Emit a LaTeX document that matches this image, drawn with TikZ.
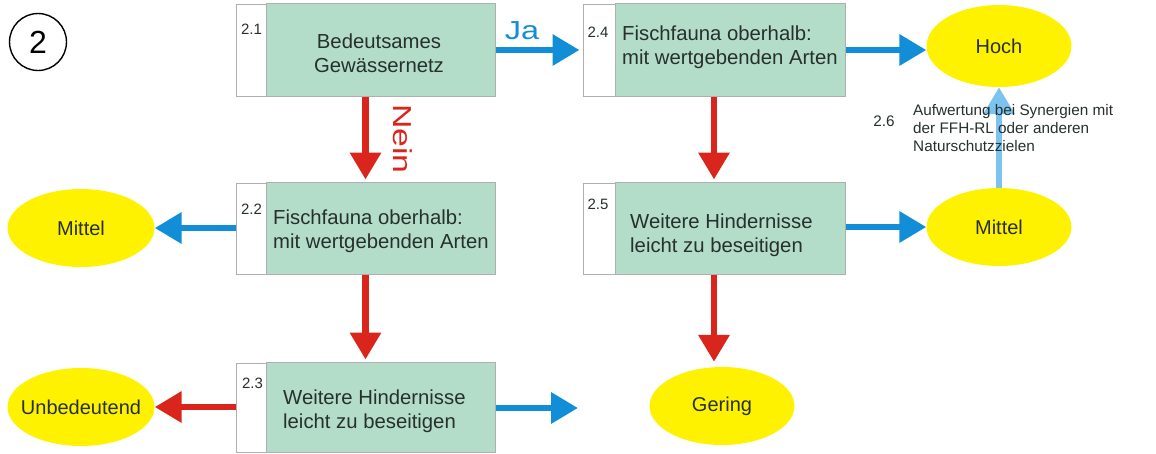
\documentclass[tikz,border=0pt]{standalone}
\usepackage{fontspec}
\setmainfont{Liberation Sans}
\usetikzlibrary{arrows.meta,shapes.geometric,calc}
\definecolor{boxgreen}{RGB}{180,221,201}
\definecolor{ellyellow}{RGB}{255,242,0}
\definecolor{arrblue}{RGB}{18,142,216}
\definecolor{arrred}{RGB}{218,37,29}
\definecolor{arrlight}{RGB}{125,195,240}
\definecolor{boxline}{RGB}{175,175,175}
\definecolor{txt}{RGB}{38,48,44}
\newcommand{\ctext}[1]{\makebox[0pt]{#1}}
\tikzset{
  frame/.style={draw=boxline, line width=1pt, fill=white, inner sep=0pt},
  greenpart/.style={fill=boxgreen, draw=boxline, line width=0.8pt},
  boxtext/.style={font=\fontsize{20.3}{24}\selectfont, text=txt, align=left, inner sep=0pt, anchor=west},
  boxtextc/.style={font=\fontsize{20.3}{24}\selectfont, text=txt, align=center, inner sep=0pt},
  numtext/.style={font=\fontsize{15}{17}\selectfont, text=txt, inner sep=0pt},
  result/.style={ellipse, fill=ellyellow, minimum width=145pt, minimum height=80pt, font=\fontsize{20}{22}\selectfont, text=txt, inner sep=0pt},
  arr/.style={line width=6.5pt, -{Triangle[width=30pt,length=27pt]}},
  bluearr/.style={arr, draw=arrblue, fill=arrblue},
  redarr/.style={arr, draw=arrred, fill=arrred},
  lightarr/.style={arr, draw=arrlight, fill=arrlight},
  annot/.style={font=\fontsize{15.3}{18}\selectfont, text=txt, align=left, inner sep=0pt}
}
\begin{document}
\begin{tikzpicture}[x=1pt,y=-1pt]
\useasboundingbox (0,0) rectangle (1156,453);
% circle 2
\node[circle, draw, line width=1.4pt, minimum size=57pt, inner sep=0pt, font=\fontsize{32}{32}\selectfont] (c2) at (38,42) {2};
% boxes
\node[frame, minimum width=259pt, minimum height=92pt] (b21) at (365.5,50) {};
\node[frame, minimum width=259pt, minimum height=91pt] (b22) at (365.5,228.5) {};
\node[frame, minimum width=259pt, minimum height=89pt] (b23) at (365.5,407.5) {};
\node[frame, minimum width=262pt, minimum height=92pt] (b24) at (714,50) {};
\node[frame, minimum width=262pt, minimum height=91pt] (b25) at (714,228.5) {};
\foreach \b in {b21,b22,b23}{
  \draw[greenpart] ($(\b.north west)+(31pt,0)$) rectangle (\b.south east);
}
\foreach \b in {b24,b25}{
  \draw[greenpart] ($(\b.north west)+(33pt,0)$) rectangle (\b.south east);
}
% numbers
\node[numtext] (n21) at (251.5,29) {2.1};
\node[numtext] (n22) at (251.5,209) {2.2};
\node[numtext] (n23) at (252.5,383) {2.3};
\node[numtext] (n24) at (598,32) {2.4};
\node[numtext] (n25) at (598,204) {2.5};
% texts
\node[boxtextc] (t21) at (379,53) {Bedeutsames\\Gewässernetz};
\node[boxtext] (t22) at (273,231) {Fischfauna oberhalb:\\mit wertgebenden Arten};
\node[boxtext] (t23) at (283,411) {Weitere Hindernisse\\leicht zu beseitigen};
\node[boxtext] (t24) at (622,47) {Fischfauna oberhalb:\\mit wertgebenden Arten};
\node[boxtext] (t25) at (630,235) {Weitere Hindernisse\\leicht zu beseitigen};
% results
\node[result, minimum height=82pt] (hoch) at (999,46) {\ctext{Hoch}};
\node[result, minimum height=78pt] (mitr) at (999,227) {\ctext{Mittel}};
\node[result, minimum height=78pt] (ger) at (722,406) {\ctext{Gering}};
\node[result, minimum height=78pt, minimum width=147pt] (mitl) at (81,228) {\ctext{Mittel}};
\node[result, minimum height=78pt, minimum width=147pt] (unb) at (81,407) {\ctext{Unbedeutend}};
% free end
\coordinate (free) at (578,408);
% arrows
\draw[bluearr, shorten >=3pt] (b21.east) -- (b24.west);
\draw[bluearr] (b24.east) -- (b24.east -| hoch.west);
\draw[bluearr] (b22.west |- mitl.east) -- (mitl.east);
\draw[bluearr] (b25.east |- mitr.west) -- (mitr.west);
\draw[bluearr] (b23.east |- free) -- (free);
\draw[redarr, shorten >=3pt] (b21.south) -- (b22.north);
\draw[redarr, shorten >=3pt] (b22.south) -- (b23.north);
\draw[redarr, shorten >=3pt] (b24.south) -- (b25.north);
\draw[redarr, shorten >=5pt] (b25.south) -- (b25.south |- ger.north);
\draw[redarr] (b23.west |- unb.east) -- (unb.east);
\draw[lightarr] (mitr.north) -- (hoch.south);
% connector labels
\node[inner sep=0pt, text=arrblue, font=\fontsize{26}{26}\selectfont] (ja) at (522,31) {\scalebox{1.25}[1]{Ja}};
\node[inner sep=0pt, text=arrred, font=\fontsize{26}{26}\selectfont, rotate=-90] (nein) at (402.5,139) {\scalebox{1.3}[1]{Nein}};
% 2.6 annotation
\node[annot] (n26) at (884,121) {2.6};
\node[annot, anchor=north west] (t26) at (913,104) {Aufwertung bei Synergien mit\\der FFH-RL oder anderen\\Naturschutzzielen};
\end{tikzpicture}
\end{document}
